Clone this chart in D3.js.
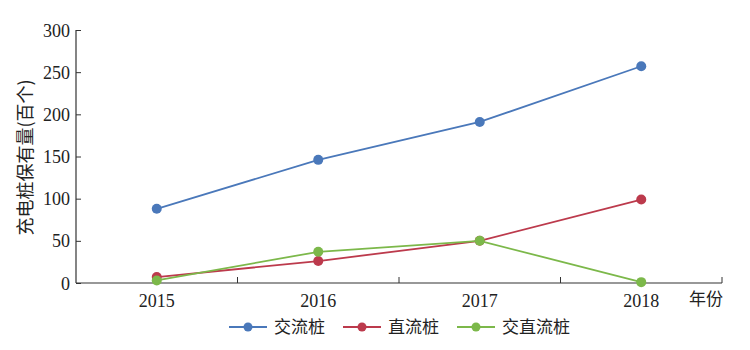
<!DOCTYPE html>
<html>
<head>
<meta charset="utf-8">
<script src="https://cdn.jsdelivr.net/npm/d3@7"></script>
<style>
  body { margin: 0; background: #fff; }
  text { fill: #333; }
</style>
</head>
<body>
<svg id="chart" width="750" height="350"></svg>
<script>
// data
const years = ["2015", "2016", "2017", "2018"]
const acPiles = [88, 146, 191, 257]
const dcPiles = [7, 26, 50, 99]
const acdcPiles = [3, 37, 50, 1]
const seriesNames = ["交流桩", "直流桩", "交直流桩"]
const seriesColors = ["#4a78ba", "#bc3a4c", "#7cb84a"]
const yTicks = [0, 50, 100, 150, 200, 250, 300]

const series = [acPiles, dcPiles, acdcPiles].map((vals, i) => ({
  name: seriesNames[i],
  color: seriesColors[i],
  values: vals.map((v, j) => ({year: years[j], value: v}))
}))

const svg = d3.select("#chart")
const plotLeft = 76, plotRight = 722, plotTop = 30, plotBottom = 283
const serif = "'Liberation Serif', 'DejaVu Serif', serif"
const cjk = "'Noto Sans CJK SC', sans-serif"

const x = d3.scaleBand().domain(years).range([plotLeft, plotRight])
const y = d3.scaleLinear().domain([0, 300]).range([plotBottom, plotTop])

// y axis, ticks pointing inward
const yAxis = svg.append("g")
  .attr("transform", `translate(${plotLeft},0)`)
  .call(d3.axisRight(y).tickValues(yTicks).tickSize(5).tickFormat(d3.format("d")))
yAxis.select(".domain").attr("stroke", "#333").attr("stroke-width", 1.2).attr("d", `M0,${plotTop}V${plotBottom}`)
yAxis.selectAll(".tick line").attr("stroke", "#333")
yAxis.selectAll(".tick text")
  .attr("x", -6).attr("dy", "0.34em").attr("text-anchor", "end")
  .style("font-family", serif).style("font-size", "18px").style("fill", "#222")

// x axis: ticks at band boundaries, pointing up
const xg = svg.append("g").attr("transform", `translate(0,${plotBottom})`)
xg.append("line").attr("x1", plotLeft).attr("x2", plotRight).attr("stroke", "#333").attr("stroke-width", 1.2)
const bounds = years.map(d => x(d) + x.bandwidth())
xg.selectAll(".btick").data(bounds).join("line")
  .attr("class", "btick")
  .attr("x1", d => d).attr("x2", d => d)
  .attr("y1", 0).attr("y2", -6)
  .attr("stroke", "#333")
xg.selectAll(".xlab").data(years).join("text")
  .attr("class", "xlab")
  .attr("x", d => x(d) + x.bandwidth() / 2)
  .attr("y", 24)
  .attr("text-anchor", "middle")
  .style("font-family", serif).style("font-size", "18px").style("fill", "#222")
  .text(d => d)
xg.append("text")
  .attr("x", 706).attr("y", 22)
  .attr("text-anchor", "middle")
  .style("font-family", cjk).style("font-size", "17px").style("fill", "#222")
  .text("年份")

// y title
svg.append("text")
  .attr("transform", `translate(32,${(plotTop + plotBottom) / 2 + 1}) rotate(-90)`)
  .attr("text-anchor", "middle")
  .style("font-family", cjk).style("font-size", "18px").style("fill", "#222")
  .text("充电桩保有量(百个)")

// lines and markers
const line = d3.line()
  .x(d => x(d.year) + x.bandwidth() / 2)
  .y(d => y(d.value))

const sg = svg.selectAll(".series").data(series).join("g").attr("class", "series")
sg.append("path")
  .attr("fill", "none")
  .attr("stroke", d => d.color)
  .attr("stroke-width", 1.8)
  .attr("d", d => line(d.values))
sg.selectAll("circle").data(d => d.values.map(v => ({...v, color: d.color}))).join("circle")
  .attr("cx", d => x(d.year) + x.bandwidth() / 2)
  .attr("cy", d => y(d.value))
  .attr("r", 5)
  .attr("fill", d => d.color)

// legend
const legendX = [229, 343, 457]
const lg = svg.selectAll(".legend").data(series).join("g")
  .attr("class", "legend")
  .attr("transform", (d, i) => `translate(${legendX[i]},327)`)
lg.append("line").attr("x1", 0).attr("x2", 38).attr("stroke", d => d.color).attr("stroke-width", 1.8)
lg.append("circle").attr("cx", 19).attr("r", 4.5).attr("fill", d => d.color)
lg.append("text")
  .attr("x", 45).attr("y", 6)
  .style("font-family", cjk).style("font-size", "17px").style("fill", "#222")
  .text(d => d.name)
</script>
</body>
</html>
